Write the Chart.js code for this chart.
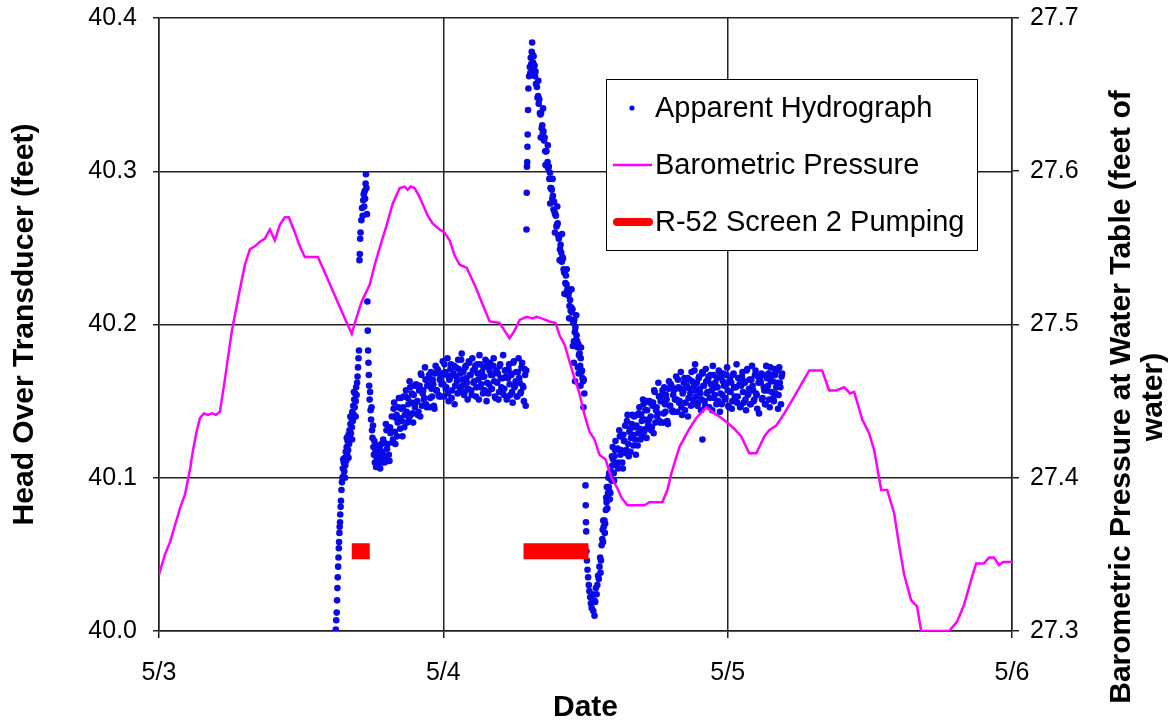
<!DOCTYPE html>
<html>
<head>
<meta charset="utf-8">
<title>Apparent Hydrograph</title>
<script src="https://cdn.jsdelivr.net/npm/chart.js@4.4.1/dist/chart.umd.min.js"></script>
<style>
  html, body { margin: 0; padding: 0; background: #fff; }
  #wrap { width: 1172px; height: 726px; }
</style>
</head>
<body>
<div id="wrap"><canvas id="hydroChart" width="1172" height="726"></canvas></div>
<script>
// time axis is hours after 5/3 00:00
const dateTicks = ['5/3', '5/4', '5/5', '5/6'];

// transducer readings (left axis, feet)
const hydroHours = [
  14.92,14.96,15.00,15.03,15.06,15.09,15.12,15.15,15.18,15.20,15.23,15.25,15.28,15.30,15.33,15.36,15.40,15.44,
  15.48,15.52,15.56,15.60,15.64,15.68,15.72,15.76,15.80,15.84,15.88,15.92,15.96,16.00,16.04,16.08,16.12,16.16,
  16.20,16.24,16.28,16.32,16.36,16.40,16.44,16.48,16.52,16.56,16.60,16.64,16.68,16.72,
  15.55,15.70,15.85,16.00,16.15,16.30,16.45,16.60,
  16.76,16.80,16.84,16.88,16.92,16.95,16.98,17.01,17.08,17.14,17.19,17.24,17.28,17.32,17.36,17.40,17.44,17.47,
  17.51,17.55,17.59,17.62,17.65,17.68,17.71,
  17.74,17.78,17.82,17.86,17.90,17.94,17.98,18.02,18.06,18.10,18.14,18.18,18.22,18.27,18.32,18.37,18.42,18.47,
  18.52,18.57,18.62,18.67,18.72,18.77,18.82,18.87,18.92,18.97,
  19.0,19.1,19.2,19.3,19.4,19.5,19.6,19.7,19.8,19.9,20.0,20.1,20.2,20.3,20.4,20.5,20.6,20.7,20.8,20.9,
  21.0,21.1,21.2,21.3,21.4,21.5,21.6,21.7,21.8,21.9,22.0,22.1,22.2,22.3,22.4,22.5,22.6,22.7,22.8,22.9,
  23.0,23.1,23.2,23.3,23.4,23.5,23.6,23.7,23.8,23.9,24.0,24.1,24.2,24.3,24.4,24.5,24.6,24.7,24.8,24.9,
  25.0,25.1,25.2,25.3,25.4,25.5,25.6,25.7,25.8,25.9,26.0,26.1,26.2,26.3,26.4,26.5,26.6,26.7,26.8,26.9,
  27.0,27.1,27.2,27.3,27.4,27.5,27.6,27.7,27.8,27.9,28.0,28.1,28.2,28.3,28.4,28.5,28.6,28.7,28.8,28.9,
  29.0,29.1,29.2,29.3,29.4,29.5,29.6,29.7,29.8,29.9,30.0,30.1,30.2,30.3,30.4,30.5,30.6,30.7,30.8,30.9,31.0,
  19.05,19.15,19.25,19.35,19.45,19.55,19.65,19.75,19.85,19.95,20.05,20.15,20.25,20.35,20.45,20.55,20.65,20.75,20.85,20.95,
  21.05,21.15,21.25,21.35,21.45,21.55,21.65,21.75,21.85,21.95,22.05,22.15,22.25,22.35,22.45,22.55,22.65,22.75,22.85,22.95,
  23.05,23.15,23.25,23.35,23.45,23.55,23.65,23.75,23.85,23.95,24.05,24.15,24.25,24.35,24.45,24.55,24.65,24.75,24.85,24.95,
  25.05,25.15,25.25,25.35,25.45,25.55,25.65,25.75,25.85,25.95,26.05,26.15,26.25,26.35,26.45,26.55,26.65,26.75,26.85,26.95,
  27.05,27.15,27.25,27.35,27.45,27.55,27.65,27.75,27.85,27.95,28.05,28.15,28.25,28.35,28.45,28.55,28.65,28.75,28.85,28.95,
  29.05,29.15,29.25,29.35,29.45,29.55,29.65,29.75,29.85,29.95,30.05,30.15,30.25,30.35,30.45,30.55,30.65,30.75,30.85,30.95,
  31.02,31.04,31.06,31.08,31.10,31.12,31.15,31.18,31.24,31.30,31.34,31.38,31.42,31.46,31.50,31.54,31.58,31.62,
  31.66,31.70,31.74,31.78,31.82,
  31.90,31.95,32.00,32.05,32.10,32.15,32.20,32.25,32.30,32.35,32.40,32.45,32.50,32.55,32.60,32.65,32.70,32.75,
  32.80,32.85,32.90,32.95,33.00,33.05,33.10,33.15,33.20,33.25,33.30,33.35,33.40,33.45,33.50,33.55,33.60,33.65,
  33.70,33.75,33.80,33.85,33.90,33.95,34.00,34.05,34.10,34.15,34.20,34.25,34.30,34.35,34.40,34.45,34.50,34.55,
  34.60,34.65,34.70,34.75,34.80,34.85,34.90,34.95,35.00,35.05,35.10,35.15,35.20,35.25,35.30,35.35,35.40,35.45,
  35.50,35.55,35.60,35.65,35.70,35.75,35.80,35.85,35.90,
  32.02,32.22,32.42,32.62,32.82,33.02,33.22,33.42,33.62,33.82,34.02,34.22,34.42,34.62,34.82,35.02,35.22,35.42,35.62,
  34.93,35.02,35.12,35.35,35.58,35.83,
  36.00,36.02,36.04,36.06,36.08,36.12,36.17,36.22,36.28,36.33,36.40,36.46,36.52,36.60,36.66,36.72,36.76,36.82,
  36.88,36.94,
  37.00,37.06,37.12,37.18,37.24,37.30,37.36,37.42,37.48,37.54,37.60,37.66,37.72,37.78,37.84,37.90,37.96,38.02,
  38.08,38.14,38.20,38.26,38.32,38.38,38.44,38.50,38.56,37.50,37.80,38.10,38.30,38.00,
  37.27,37.45,37.63,37.75,37.93,38.05,38.23,38.41,38.53,38.65,
  38.7,38.8,38.9,39.0,39.1,39.2,39.3,39.4,39.5,39.6,39.7,39.8,39.9,40.0,40.1,40.2,40.3,40.4,40.5,40.6,
  40.7,40.8,40.9,41.0,41.1,41.2,41.3,41.4,41.5,41.6,41.7,41.8,41.9,42.0,42.1,42.2,42.3,42.4,42.5,42.6,
  42.7,42.8,42.9,43.0,43.1,43.2,43.3,43.4,43.5,43.6,43.7,43.8,43.9,44.0,44.1,44.2,44.3,44.4,44.5,44.6,
  44.7,44.8,44.9,45.0,45.1,45.2,45.3,45.4,45.5,45.6,45.7,45.8,45.9,46.0,46.1,46.2,46.3,46.4,46.5,46.6,
  46.7,46.8,46.9,47.0,47.1,47.2,47.3,47.4,47.5,47.6,47.7,47.8,47.9,48.0,48.1,48.2,48.3,48.4,48.5,48.6,
  48.7,48.8,48.9,49.0,49.1,49.2,49.3,49.4,49.5,49.6,49.7,49.8,49.9,50.0,50.1,50.2,50.3,50.4,50.5,50.6,
  50.7,50.8,50.9,51.0,51.1,51.2,51.3,51.4,51.5,51.6,51.7,51.8,51.9,52.0,52.1,52.2,52.3,52.4,52.5,52.6,
  38.75,38.85,38.95,39.05,39.15,39.25,39.35,39.45,39.55,39.65,39.75,39.85,39.95,40.05,40.15,40.25,40.35,40.45,40.55,40.65,
  40.75,40.85,40.95,41.05,41.15,41.25,41.35,41.45,41.55,41.65,41.75,41.85,41.95,42.05,42.15,42.25,42.35,42.45,42.55,42.65,
  42.75,42.85,42.95,43.05,43.15,43.25,43.35,43.45,43.55,43.65,43.75,43.85,43.95,44.05,44.15,44.25,44.35,44.45,44.55,44.65,
  44.75,44.85,44.95,45.05,45.15,45.25,45.35,45.45,45.55,45.65,45.75,45.85,45.95,46.05,46.15,46.25,46.35,46.45,46.55,46.65,
  46.75,46.85,46.95,47.05,47.15,47.25,47.35,47.45,47.55,47.65,47.75,47.85,47.95,48.05,48.15,48.25,48.35,48.45,48.55,48.65,
  48.75,48.85,48.95,49.05,49.15,49.25,49.35,49.45,49.55,49.65,49.75,49.85,49.95,50.05,50.15,50.25,50.35,50.45,50.55,50.65,
  50.75,50.85,50.95,51.05,51.15,51.25,51.35,51.45,51.55,51.65,51.75,51.85,51.95,52.05,52.15,52.25,52.35,52.45,52.55,
  45.87
];
const hydroHead = [
  40.001,40.007,40.012,40.020,40.028,40.035,40.042,40.048,40.054,40.058,40.064,40.068,40.071,40.076,40.081,40.085,40.092,40.097,
  40.100,40.106,40.101,40.110,40.104,40.113,40.108,40.117,40.111,40.120,40.115,40.124,40.118,40.128,40.122,40.131,40.126,40.135,
  40.129,40.139,40.133,40.143,40.137,40.147,40.141,40.151,40.146,40.155,40.150,40.159,40.154,40.162,
  40.112,40.100,40.126,40.113,40.140,40.125,40.156,40.140,
  40.166,40.172,40.178,40.183,40.242,40.246,40.256,40.260,40.268,40.276,40.271,40.281,40.285,40.277,40.287,40.282,40.292,40.298,
  40.289,40.272,40.215,40.196,40.183,40.175,40.167,
  40.160,40.151,40.156,40.144,40.138,40.146,40.131,40.126,40.134,40.120,40.115,40.124,40.110,40.117,40.107,40.113,40.121,40.108,
  40.116,40.111,40.119,40.106,40.114,40.122,40.110,40.117,40.125,40.113,
  40.123,40.114,40.131,40.122,40.115,40.133,40.130,40.123,40.145,40.130,40.139,40.127,40.146,40.139,40.152,40.137,40.146,40.133,40.153,40.143,
  40.152,40.139,40.159,40.149,40.142,40.154,40.146,40.161,40.150,40.143,40.160,40.168,40.147,40.157,40.152,40.164,40.146,40.161,40.167,40.152,
  40.158,40.164,40.147,40.168,40.157,40.171,40.154,40.164,40.153,40.168,40.161,40.174,40.158,40.167,40.155,40.164,40.171,40.152,40.167,40.173,
  40.160,40.166,40.155,40.171,40.159,40.177,40.164,40.169,40.156,40.173,40.162,40.158,40.175,40.167,40.154,40.170,40.163,40.173,40.159,40.168,
  40.151,40.174,40.161,40.166,40.172,40.157,40.176,40.162,40.155,40.170,40.167,40.158,40.173,40.163,40.152,40.170,40.168,40.156,40.174,40.159,
  40.165,40.154,40.170,40.166,40.152,40.171,40.161,40.168,40.156,40.175,40.159,40.163,40.153,40.169,40.165,40.155,40.172,40.160,40.150,40.167,40.170,
  40.110,40.135,40.119,40.131,40.111,40.129,40.140,40.125,40.149,40.122,40.141,40.136,40.152,40.132,40.145,40.127,40.153,40.141,40.157,40.136,
  40.148,40.163,40.141,40.155,40.136,40.160,40.149,40.160,40.141,40.157,40.140,40.167,40.155,40.151,40.172,40.148,40.160,40.165,40.146,40.169,
  40.153,40.161,40.145,40.173,40.157,40.170,40.153,40.167,40.161,40.176,40.153,40.169,40.159,40.178,40.150,40.165,40.174,40.157,40.168,40.148,
  40.172,40.163,40.177,40.156,40.168,40.181,40.160,40.154,40.172,40.165,40.151,40.176,40.167,40.157,40.178,40.162,40.171,40.153,40.174,40.164,
  40.180,40.159,40.169,40.155,40.166,40.177,40.150,40.173,40.161,40.175,40.158,40.167,40.178,40.153,40.169,40.162,40.151,40.173,40.165,40.156,
  40.180,40.158,40.170,40.151,40.165,40.174,40.154,40.167,40.149,40.176,40.160,40.169,40.153,40.178,40.162,40.156,40.175,40.159,40.171,40.147,
  40.262,40.286,40.303,40.306,40.316,40.324,40.340,40.354,40.362,40.368,40.364,40.374,40.370,40.378,40.384,40.376,40.371,40.375,
  40.366,40.369,40.362,40.365,40.357,
  40.355,40.348,40.349,40.344,40.347,40.338,40.337,40.338,40.328,40.330,40.325,40.326,40.320,40.322,40.313,40.313,40.313,40.304,
  40.306,40.302,40.303,40.295,40.299,40.289,40.289,40.288,40.282,40.284,40.275,40.280,40.273,40.272,40.271,40.264,40.265,40.266,
  40.258,40.256,40.258,40.249,40.252,40.247,40.241,40.244,40.243,40.236,40.234,40.235,40.227,40.232,40.226,40.222,40.223,40.219,
  40.221,40.212,40.216,40.209,40.211,40.208,40.210,40.202,40.201,40.203,40.195,40.198,40.190,40.193,40.189,40.185,40.187,40.180,
  40.181,40.173,40.178,40.169,40.170,40.165,40.163,40.164,40.155,
  40.359,40.322,40.341,40.304,40.317,40.279,40.295,40.260,40.277,40.242,40.259,40.220,40.236,40.204,40.223,40.189,40.206,40.168,40.185,
  40.186,40.175,40.163,40.172,40.160,40.146,
  40.095,40.082,40.071,40.065,40.052,40.046,40.040,40.035,40.030,40.026,40.022,40.018,40.015,40.024,40.013,40.020,40.010,40.019,
  40.028,40.024,
  40.030,40.036,40.034,40.042,40.048,40.046,40.056,40.060,40.058,40.068,40.072,40.070,40.079,40.084,40.080,40.090,40.094,40.091,
  40.100,40.104,40.098,40.108,40.112,40.103,40.114,40.118,40.109,40.072,40.094,40.090,40.120,40.103,
  40.038,40.066,40.064,40.087,40.100,40.086,40.114,40.098,40.124,40.108,
  40.119,40.110,40.127,40.118,40.110,40.128,40.124,40.116,40.137,40.122,40.130,40.117,40.135,40.128,40.140,40.125,40.134,40.121,40.142,40.132,
  40.141,40.127,40.148,40.138,40.132,40.144,40.135,40.150,40.140,40.133,40.149,40.157,40.136,40.146,40.142,40.153,40.136,40.150,40.157,40.142,
  40.148,40.154,40.137,40.158,40.147,40.161,40.144,40.154,40.143,40.158,40.151,40.164,40.149,40.158,40.146,40.155,40.162,40.144,40.159,40.165,
  40.152,40.158,40.147,40.163,40.151,40.170,40.157,40.162,40.149,40.166,40.155,40.151,40.168,40.160,40.147,40.163,40.156,40.166,40.152,40.161,
  40.144,40.167,40.154,40.159,40.165,40.150,40.169,40.155,40.148,40.163,40.160,40.152,40.167,40.157,40.146,40.164,40.162,40.150,40.168,40.153,
  40.159,40.149,40.165,40.161,40.147,40.166,40.156,40.163,40.151,40.170,40.154,40.158,40.148,40.164,40.160,40.150,40.167,40.155,40.145,40.162,
  40.165,40.162,40.151,40.167,40.157,40.148,40.165,40.160,40.151,40.172,40.156,40.163,40.150,40.167,40.159,40.170,40.154,40.162,40.148,40.168,
  40.106,40.131,40.115,40.127,40.106,40.124,40.134,40.118,40.141,40.114,40.132,40.126,40.141,40.121,40.133,40.115,40.141,40.129,40.146,40.125,
  40.137,40.151,40.130,40.144,40.126,40.150,40.138,40.149,40.131,40.147,40.129,40.156,40.144,40.140,40.162,40.137,40.150,40.154,40.136,40.159,
  40.143,40.151,40.135,40.163,40.147,40.160,40.143,40.157,40.151,40.166,40.143,40.159,40.150,40.169,40.141,40.156,40.165,40.149,40.160,40.140,
  40.164,40.155,40.169,40.148,40.160,40.174,40.153,40.147,40.165,40.158,40.144,40.169,40.160,40.150,40.171,40.155,40.164,40.146,40.167,40.157,
  40.173,40.152,40.162,40.148,40.159,40.170,40.143,40.166,40.154,40.168,40.151,40.161,40.172,40.147,40.163,40.156,40.145,40.167,40.159,40.150,
  40.174,40.153,40.165,40.146,40.160,40.169,40.149,40.162,40.144,40.171,40.155,40.164,40.148,40.173,40.157,40.151,40.170,40.154,40.166,40.142,
  40.163,40.168,40.152,40.159,40.148,40.173,40.157,40.168,40.146,40.163,40.167,40.152,40.171,40.155,40.162,40.145,40.172,40.159,40.166,
  40.125
];

// barometric pressure (right axis, feet of water)
const baroHours = [
  0, 0.51, 0.93, 1.35, 1.77, 2.19, 2.61, 2.87, 3.20, 3.46, 3.79, 4.13, 4.47, 4.81, 5.14, 5.56, 6.15, 6.83,
  7.25, 7.67, 8.09, 8.52, 8.94, 9.36, 9.78, 10.20, 10.62, 10.96, 11.47, 11.89, 12.31, 13.41, 14.00, 14.84,
  15.68, 16.27, 16.61, 17.11, 17.79, 18.21, 18.63, 19.22, 19.73, 20.32, 20.74, 20.99, 21.25, 21.58, 22.01,
  22.68, 23.10, 23.69, 24.11, 24.53, 24.96, 25.38, 25.97, 26.64, 27.32, 27.91, 28.75, 29.17, 29.59, 30.01,
  30.44, 31.03, 31.53, 31.87, 32.29, 32.97, 33.47, 33.81, 34.23, 34.65, 35.07, 35.49, 35.92, 36.34, 36.76,
  37.18, 37.69, 38.19, 38.70, 39.04, 39.54, 40.97, 41.40, 42.49, 42.91, 43.25, 43.93, 44.77, 45.36, 46.20,
  46.88, 47.47, 47.97, 48.56, 49.15, 49.82, 50.42, 51.09, 51.51, 52.10, 52.78, 53.62, 54.21, 54.89, 55.98,
  56.57, 57.16, 57.84, 58.34, 58.68, 59.36, 59.94, 60.37, 60.62, 60.96, 61.46, 62.05, 62.47, 62.89, 63.49,
  63.99, 64.33, 66.69, 67.36, 67.95, 68.54, 68.97, 69.64, 70.06, 70.48, 70.90, 71.24, 72.0
];
const baroFeet = [
  27.337, 27.350, 27.358, 27.369, 27.380, 27.389, 27.405, 27.418, 27.431, 27.439, 27.442, 27.441, 27.442, 27.441, 27.443, 27.464, 27.496, 27.523,
  27.539, 27.549, 27.551, 27.554, 27.556, 27.562, 27.555, 27.565, 27.570, 27.570, 27.560, 27.551, 27.544, 27.544, 27.534, 27.519,
  27.504, 27.494, 27.503, 27.515, 27.526, 27.539, 27.550, 27.565, 27.579, 27.589, 27.590, 27.588, 27.590, 27.589, 27.583,
  27.571, 27.566, 27.562, 27.560, 27.555, 27.545, 27.539, 27.537, 27.526, 27.513, 27.502, 27.501, 27.496, 27.491, 27.496,
  27.503, 27.505, 27.504, 27.505, 27.504, 27.502, 27.501, 27.493, 27.487, 27.476, 27.465, 27.455, 27.441, 27.430, 27.425,
  27.415, 27.412, 27.400, 27.393, 27.387, 27.382, 27.382, 27.384, 27.384, 27.392, 27.403, 27.420, 27.432, 27.439, 27.446,
  27.442, 27.439, 27.436, 27.432, 27.427, 27.416, 27.416, 27.427, 27.431, 27.434, 27.442, 27.453, 27.461, 27.470, 27.470,
  27.457, 27.457, 27.459, 27.455, 27.456, 27.438, 27.429, 27.418, 27.407, 27.392, 27.392, 27.377, 27.356, 27.337, 27.320,
  27.316, 27.300, 27.300, 27.306, 27.317, 27.333, 27.344, 27.344, 27.348, 27.348, 27.343, 27.345, 27.345
];

// R-52 screen 2 pumping periods (drawn at a fixed head as a marker bar)
const pumpHours = [16.27, 17.79, 24, 30.77, 36.25];
const pumpHead = [40.052, 40.052, null, 40.052, 40.052];

const y2TitleLines = ['Barometric Pressure at Water Table (feet of', 'water)'];

Chart.defaults.font.family = '"Liberation Sans", Arial, sans-serif';
Chart.defaults.font.size = 25;
Chart.defaults.color = '#000';

const toPoints = (xs, ys) => xs.map((x, i) => ({ x: x, y: ys[i] }));

// legend box drawn inside the plot, like the original spreadsheet chart
const boxLegend = {
  id: 'boxLegend',
  afterDatasetsDraw(chart) {
    const ctx = chart.ctx;
    const ds = chart.data.datasets;
    const rows = [108, 165, 222];
    ctx.save();
    ctx.fillStyle = '#fff';
    ctx.fillRect(606, 79, 371, 171);
    ctx.strokeStyle = '#000';
    ctx.lineWidth = 1;
    ctx.strokeRect(606.5, 79.5, 371, 171);

    // dot
    ctx.fillStyle = ds[0].backgroundColor;
    ctx.beginPath();
    ctx.arc(632, rows[0], 2.6, 0, Math.PI * 2);
    ctx.fill();
    // thin line
    ctx.strokeStyle = ds[1].borderColor;
    ctx.lineWidth = 2.5;
    ctx.beginPath();
    ctx.moveTo(613, rows[1]);
    ctx.lineTo(652, rows[1]);
    ctx.stroke();
    // thick bar
    ctx.strokeStyle = ds[2].borderColor;
    ctx.lineWidth = 8;
    ctx.lineCap = 'round';
    ctx.beginPath();
    ctx.moveTo(617, rows[2]);
    ctx.lineTo(649, rows[2]);
    ctx.stroke();

    ctx.fillStyle = '#000';
    ctx.font = '29px "Liberation Sans", Arial, sans-serif';
    ctx.textAlign = 'left';
    ctx.textBaseline = 'middle';
    ds.forEach((d, i) => ctx.fillText(d.label, 655, rows[i] + 1));
    ctx.restore();
  }
};

// right axis title reads bottom-to-top like the left one
const rightTitle = {
  id: 'rightTitle',
  afterDraw(chart) {
    const ctx = chart.ctx;
    ctx.save();
    ctx.font = 'bold 30px "Liberation Sans", Arial, sans-serif';
    ctx.fillStyle = '#000';
    ctx.textAlign = 'center';
    ctx.textBaseline = 'middle';
    ctx.translate(1122, 397);
    ctx.rotate(-Math.PI / 2);
    ctx.fillText(y2TitleLines[0], 0, 0);
    ctx.fillText(y2TitleLines[1], 0, 32);
    ctx.restore();
  }
};

// keep the plot box where the original has it (no extra room for half labels)
const noLabelPad = (s) => { s.paddingTop = 0; s.paddingBottom = 0; };

const gridColor = '#222';

new Chart(document.getElementById('hydroChart'), {
  type: 'scatter',
  data: {
    datasets: [
      {
        label: 'Apparent Hydrograph',
        data: toPoints(hydroHours, hydroHead),
        yAxisID: 'y',
        backgroundColor: '#0a0ae8',
        borderColor: '#0a0ae8',
        pointRadius: 3.3,
        pointBorderWidth: 0,
        order: 3
      },
      {
        label: 'Barometric Pressure',
        data: toPoints(baroHours, baroFeet),
        yAxisID: 'y2',
        showLine: true,
        borderColor: '#ff00ff',
        backgroundColor: '#ff00ff',
        borderWidth: 2.5,
        pointRadius: 0,
        tension: 0,
        order: 2
      },
      {
        label: 'R-52 Screen 2 Pumping',
        data: toPoints(pumpHours, pumpHead),
        yAxisID: 'y',
        showLine: true,
        spanGaps: false,
        borderColor: '#ff0000',
        backgroundColor: '#ff0000',
        borderWidth: 16,
        borderCapStyle: 'butt',
        pointRadius: 0,
        order: 1
      }
    ]
  },
  options: {
    responsive: false,
    animation: false,
    layout: { padding: { top: 18, left: 0, right: 0, bottom: 0 } },
    plugins: {
      legend: { display: false },
      tooltip: { enabled: false }
    },
    scales: {
      x: {
        type: 'linear',
        min: 0,
        max: 72,
        ticks: {
          stepSize: 24,
          padding: 20,
          callback: (v) => dateTicks[Math.round(v / 24)]
        },
        grid: { color: gridColor, lineWidth: 1.5, tickLength: 7 },
        border: { color: gridColor, width: 1.5 },
        title: { display: true, text: 'Date', font: { size: 30, weight: 'bold' }, padding: 0 },
        afterFit: (s) => { s.height = 95; }
      },
      y: {
        position: 'left',
        min: 40.0,
        max: 40.4,
        ticks: {
          stepSize: 0.1,
          padding: 16,
          callback: (v) => v.toFixed(1)
        },
        grid: { color: gridColor, lineWidth: 1.5, tickLength: 6 },
        border: { color: gridColor, width: 1.5 },
        title: { display: true, text: 'Head Over Transducer (feet)', font: { size: 30, weight: 'bold' }, padding: 7 },
        afterFit: (s) => { s.width = 159; noLabelPad(s); }
      },
      y2: {
        position: 'right',
        min: 27.3,
        max: 27.7,
        ticks: {
          stepSize: 0.1,
          padding: 11,
          callback: (v) => v.toFixed(1)
        },
        grid: { drawOnChartArea: false, color: gridColor, lineWidth: 1.5, tickLength: 7 },
        border: { color: gridColor, width: 1.5 },
        afterFit: (s) => { s.width = 160; noLabelPad(s); }
      }
    }
  },
  plugins: [boxLegend, rightTitle]
});
</script>
</body>
</html>
